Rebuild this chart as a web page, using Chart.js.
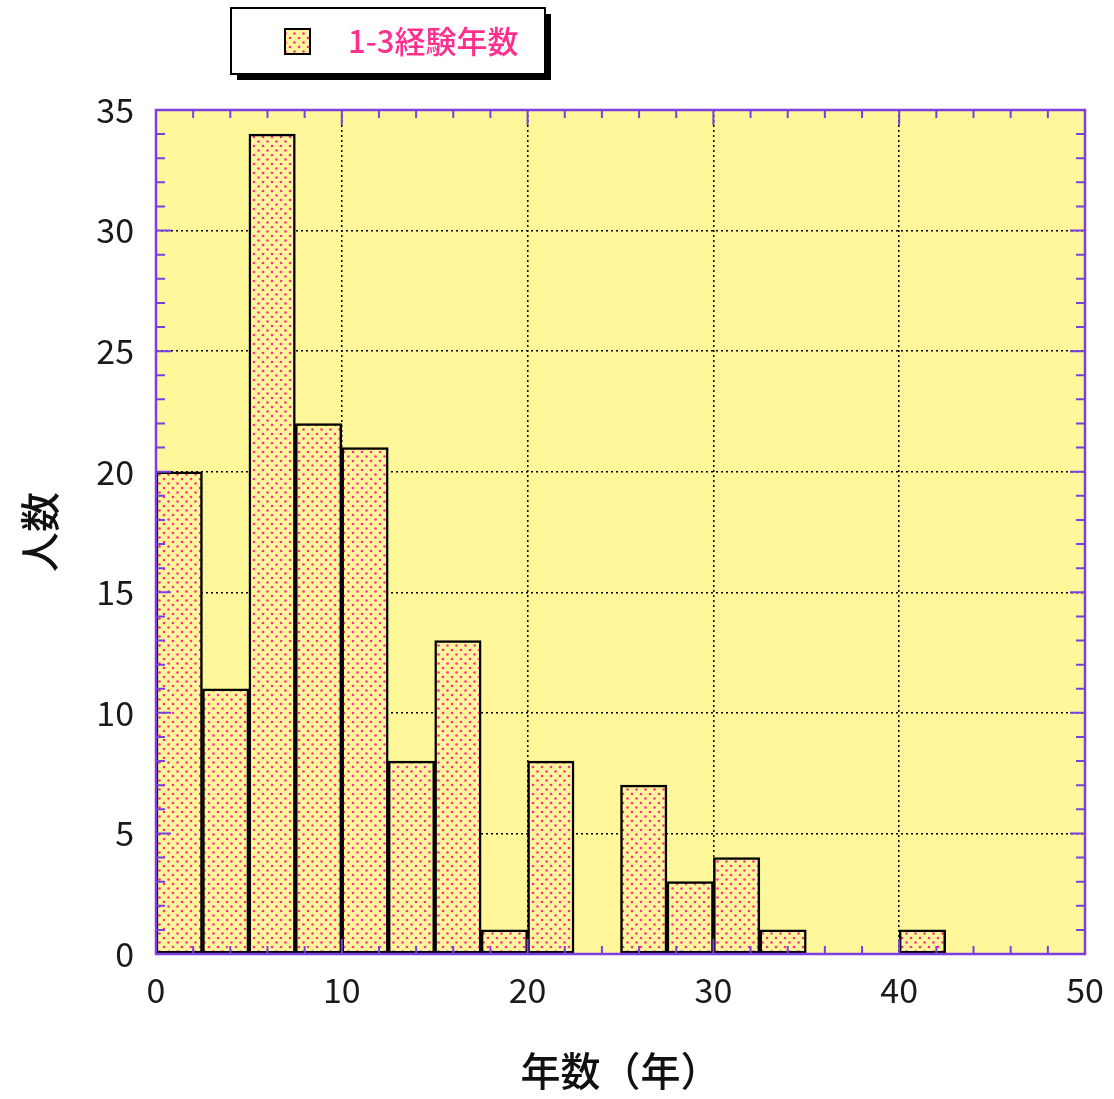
<!DOCTYPE html>
<html>
<head>
<meta charset="utf-8">
<script src="https://cdn.jsdelivr.net/npm/chart.js@4.4.1/dist/chart.umd.min.js"></script>
<style>
  html, body { margin: 0; padding: 0; background: #fff; }
  #wrap { width: 1114px; height: 1099px; position: relative; }
</style>
</head>
<body>
<div id="wrap"><canvas id="histChart"></canvas></div>
<script>
// DATA
const seriesLabel = '1-3経験年数';
const binCenters = [1.25, 3.75, 6.25, 8.75, 11.25, 13.75, 16.25, 18.75, 21.25, 23.75,
                    26.25, 28.75, 31.25, 33.75, 36.25, 38.75, 41.25, 43.75, 46.25, 48.75];
const counts = [20, 11, 34, 22, 21, 8, 13, 1, 8, 0, 7, 3, 4, 1, 0, 0, 1, 0, 0, 0];
const xTicks = [0, 10, 20, 30, 40, 50];
const yTicks = [0, 5, 10, 15, 20, 25, 30, 35];
const xTitle = '年数（年）';
const yTitle = '人数';

const FONT = '"Noto Sans CJK JP", "Noto Sans", sans-serif';
const PLOT_BG = '#fff799';
const FRAME = '#7b3fe0';
const PINK = '#ff2f8e';

// dotted fill for the bars
const makePattern = () => {
  const c = document.createElement('canvas');
  c.width = 9; c.height = 9;
  const g = c.getContext('2d');
  g.fillStyle = '#fff59a';
  g.fillRect(0, 0, 9, 9);
  g.fillStyle = PINK;
  [[2, 2], [6.5, 6.5]].forEach(([x, y]) => {
    g.beginPath();
    g.arc(x, y, 1.3, 0, Math.PI * 2);
    g.fill();
  });
  return c;
};
const patternCanvas = makePattern();
const barPattern = document.getElementById('histChart').getContext('2d').createPattern(patternCanvas, 'repeat');

// yellow plot background
const plotBackground = {
  id: 'plotBackground',
  beforeDraw(chart) {
    const { ctx, chartArea: a } = chart;
    ctx.save();
    ctx.fillStyle = PLOT_BG;
    ctx.fillRect(a.left, a.top, a.right - a.left, a.bottom - a.top);
    ctx.restore();
  }
};

// purple frame with inward ticks on all four sides + legend box
const frameAndLegend = {
  id: 'frameAndLegend',
  afterDraw(chart) {
    const { ctx, chartArea: a, scales } = chart;
    ctx.save();
    ctx.strokeStyle = FRAME;
    ctx.lineWidth = 2;
    ctx.beginPath();
    for (let v = 0; v <= 50; v += 2) {
      const px = scales.x.getPixelForValue(v);
      const len = v % 10 === 0 ? 15 : 8;
      ctx.moveTo(px, a.bottom); ctx.lineTo(px, a.bottom - len);
      ctx.moveTo(px, a.top); ctx.lineTo(px, a.top + len);
    }
    for (let v = 0; v <= 35; v += 1) {
      const py = scales.y.getPixelForValue(v);
      const len = v % 5 === 0 ? 15 : 9;
      ctx.moveTo(a.left, py); ctx.lineTo(a.left + len, py);
      ctx.moveTo(a.right, py); ctx.lineTo(a.right - len, py);
    }
    ctx.stroke();
    ctx.lineWidth = 2.5;
    ctx.strokeRect(a.left, a.top, a.right - a.left, a.bottom - a.top);

    // legend
    const bx = 231, by = 8, bw = 314, bh = 66;
    ctx.fillStyle = '#000';
    ctx.fillRect(bx + 6, by + 6, bw, bh);
    ctx.fillStyle = '#fff';
    ctx.fillRect(bx, by, bw, bh);
    ctx.strokeStyle = '#000';
    ctx.lineWidth = 2;
    ctx.strokeRect(bx, by, bw, bh);
    ctx.fillStyle = barPattern;
    ctx.fillRect(285, 29, 25, 25);
    ctx.strokeRect(285, 29, 25, 25);
    ctx.fillStyle = PINK;
    ctx.font = '500 31px ' + FONT;
    ctx.textBaseline = 'middle';
    ctx.fillText(chart.data.datasets[0].label, 348, 41);
    ctx.restore();
  }
};

new Chart(document.getElementById('histChart'), {
  type: 'bar',
  data: {
    labels: binCenters,
    datasets: [{
      label: seriesLabel,
      data: binCenters.map((x, i) => ({ x: x, y: counts[i] })),
      backgroundColor: barPattern,
      borderColor: '#000',
      borderWidth: 2.5,
      borderSkipped: false,
      barPercentage: 1,
      categoryPercentage: 1
    }]
  },
  options: {
    responsive: true,
    maintainAspectRatio: false,
    animation: false,
    layout: { padding: { top: 110, right: 29, left: 0, bottom: 0 } },
    plugins: { legend: { display: false }, tooltip: { enabled: false } },
    scales: {
      x: {
        type: 'linear',
        offset: false,
        min: 0, max: 50,
        afterBuildTicks: (s) => { s.ticks = xTicks.map(v => ({ value: v })); },
        afterFit: (s) => { s.height = 145; s.paddingRight = 0; s.paddingLeft = 0; },
        grid: { color: '#000', lineWidth: 1.5, drawTicks: false, offset: false },
        border: { display: false, dash: [2, 3] },
        ticks: { color: '#1a1a1a', padding: 16, font: { family: FONT, size: 34 } },
        title: { display: true, text: xTitle, color: '#111', padding: { top: 20 }, font: { family: FONT, size: 40, weight: '500' } }
      },
      y: {
        min: 0, max: 35,
        afterBuildTicks: (s) => { s.ticks = yTicks.map(v => ({ value: v })); },
        afterFit: (s) => { s.width = 156; s.paddingTop = 0; s.paddingBottom = 0; },
        grid: { color: '#000', lineWidth: 1.5, drawTicks: false, offset: false },
        border: { display: false, dash: [2, 3] },
        ticks: { color: '#1a1a1a', padding: 22, font: { family: FONT, size: 34 } },
        title: { display: true, text: yTitle, color: '#111', padding: { bottom: 0, top: 16 }, font: { family: FONT, size: 40, weight: '500' } }
      }
    }
  },
  plugins: [plotBackground, frameAndLegend]
});
</script>
</body>
</html>
